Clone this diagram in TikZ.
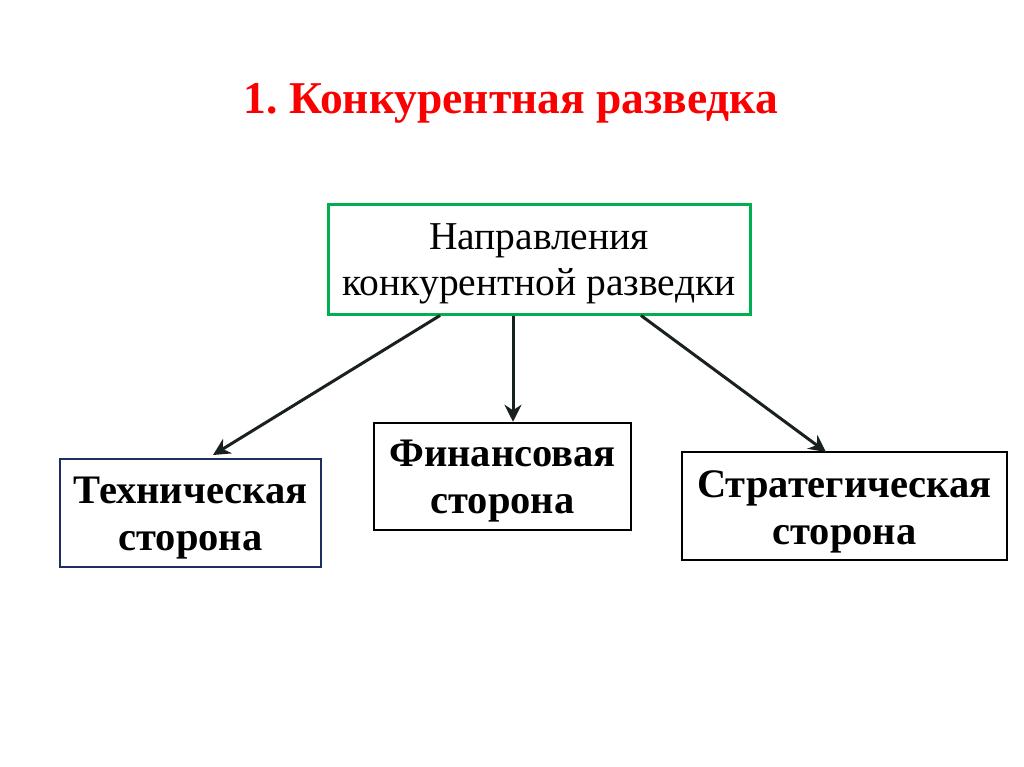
\documentclass[tikz,border=0pt]{standalone}
\usepackage{fontspec}
\setmainfont{Liberation Serif}
\usetikzlibrary{arrows.meta}
\definecolor{titlered}{RGB}{250,0,0}
\definecolor{boxgreen}{RGB}{0,176,80}
\definecolor{boxnavy}{RGB}{31,45,96}
\definecolor{arrowcol}{RGB}{25,32,32}
\tikzset{
  box/.style={draw, line width=2.5pt, minimum width=#1, inner sep=0pt},
  boxtext/.style={inner sep=0pt, align=center, font=\fontsize{40.5}{47}\selectfont\bfseries},
  conn/.style={draw=arrowcol, line width=3pt, -{Stealth[length=17pt,width=17pt]}}
}
\begin{document}
\frenchspacing
\begin{tikzpicture}[x=1pt,y=-1pt]
\useasboundingbox (0,0) rectangle (1024,767);
\node[text=titlered, font=\fontsize{45.5}{52}\selectfont\bfseries] (title) at (511,103) {1. Конкурентная разведка};
\node[draw=boxgreen, line width=3pt, minimum width=422pt, minimum height=109pt, inner sep=0pt] (top) at (539,259.5) {};
\node[inner sep=0pt, align=center, font=\fontsize{39.5}{46}\selectfont] (top-t) at ([yshift=-4pt]top.center) {Направления\\конкурентной разведки};
\node[box=261pt, draw=boxnavy, minimum height=108pt] (tech) at (190.5,513) {};
\node[boxtext] (tech-t) at ([yshift=-5pt]tech.center) {Техническая\\сторона};
\node[box=257pt, draw=black, minimum height=107pt] (fin) at (502.5,476.5) {};
\node[boxtext] (fin-t) at ([yshift=-5pt]fin.center) {Финансовая\\сторона};
\node[box=325pt, draw=black, minimum height=108pt] (strat) at (844.5,506) {};
\node[boxtext] (strat-t) at ([yshift=-6pt]strat.center) {Стратегическая\\сторона};
\draw[conn] (top.south -| 440,0) -- (213,455);
\draw[conn] (top.south -| 513,0) -- (fin.north -| 513,0);
\draw[conn] (top.south -| 641,0) -- (826,452);
\end{tikzpicture}
\end{document}
